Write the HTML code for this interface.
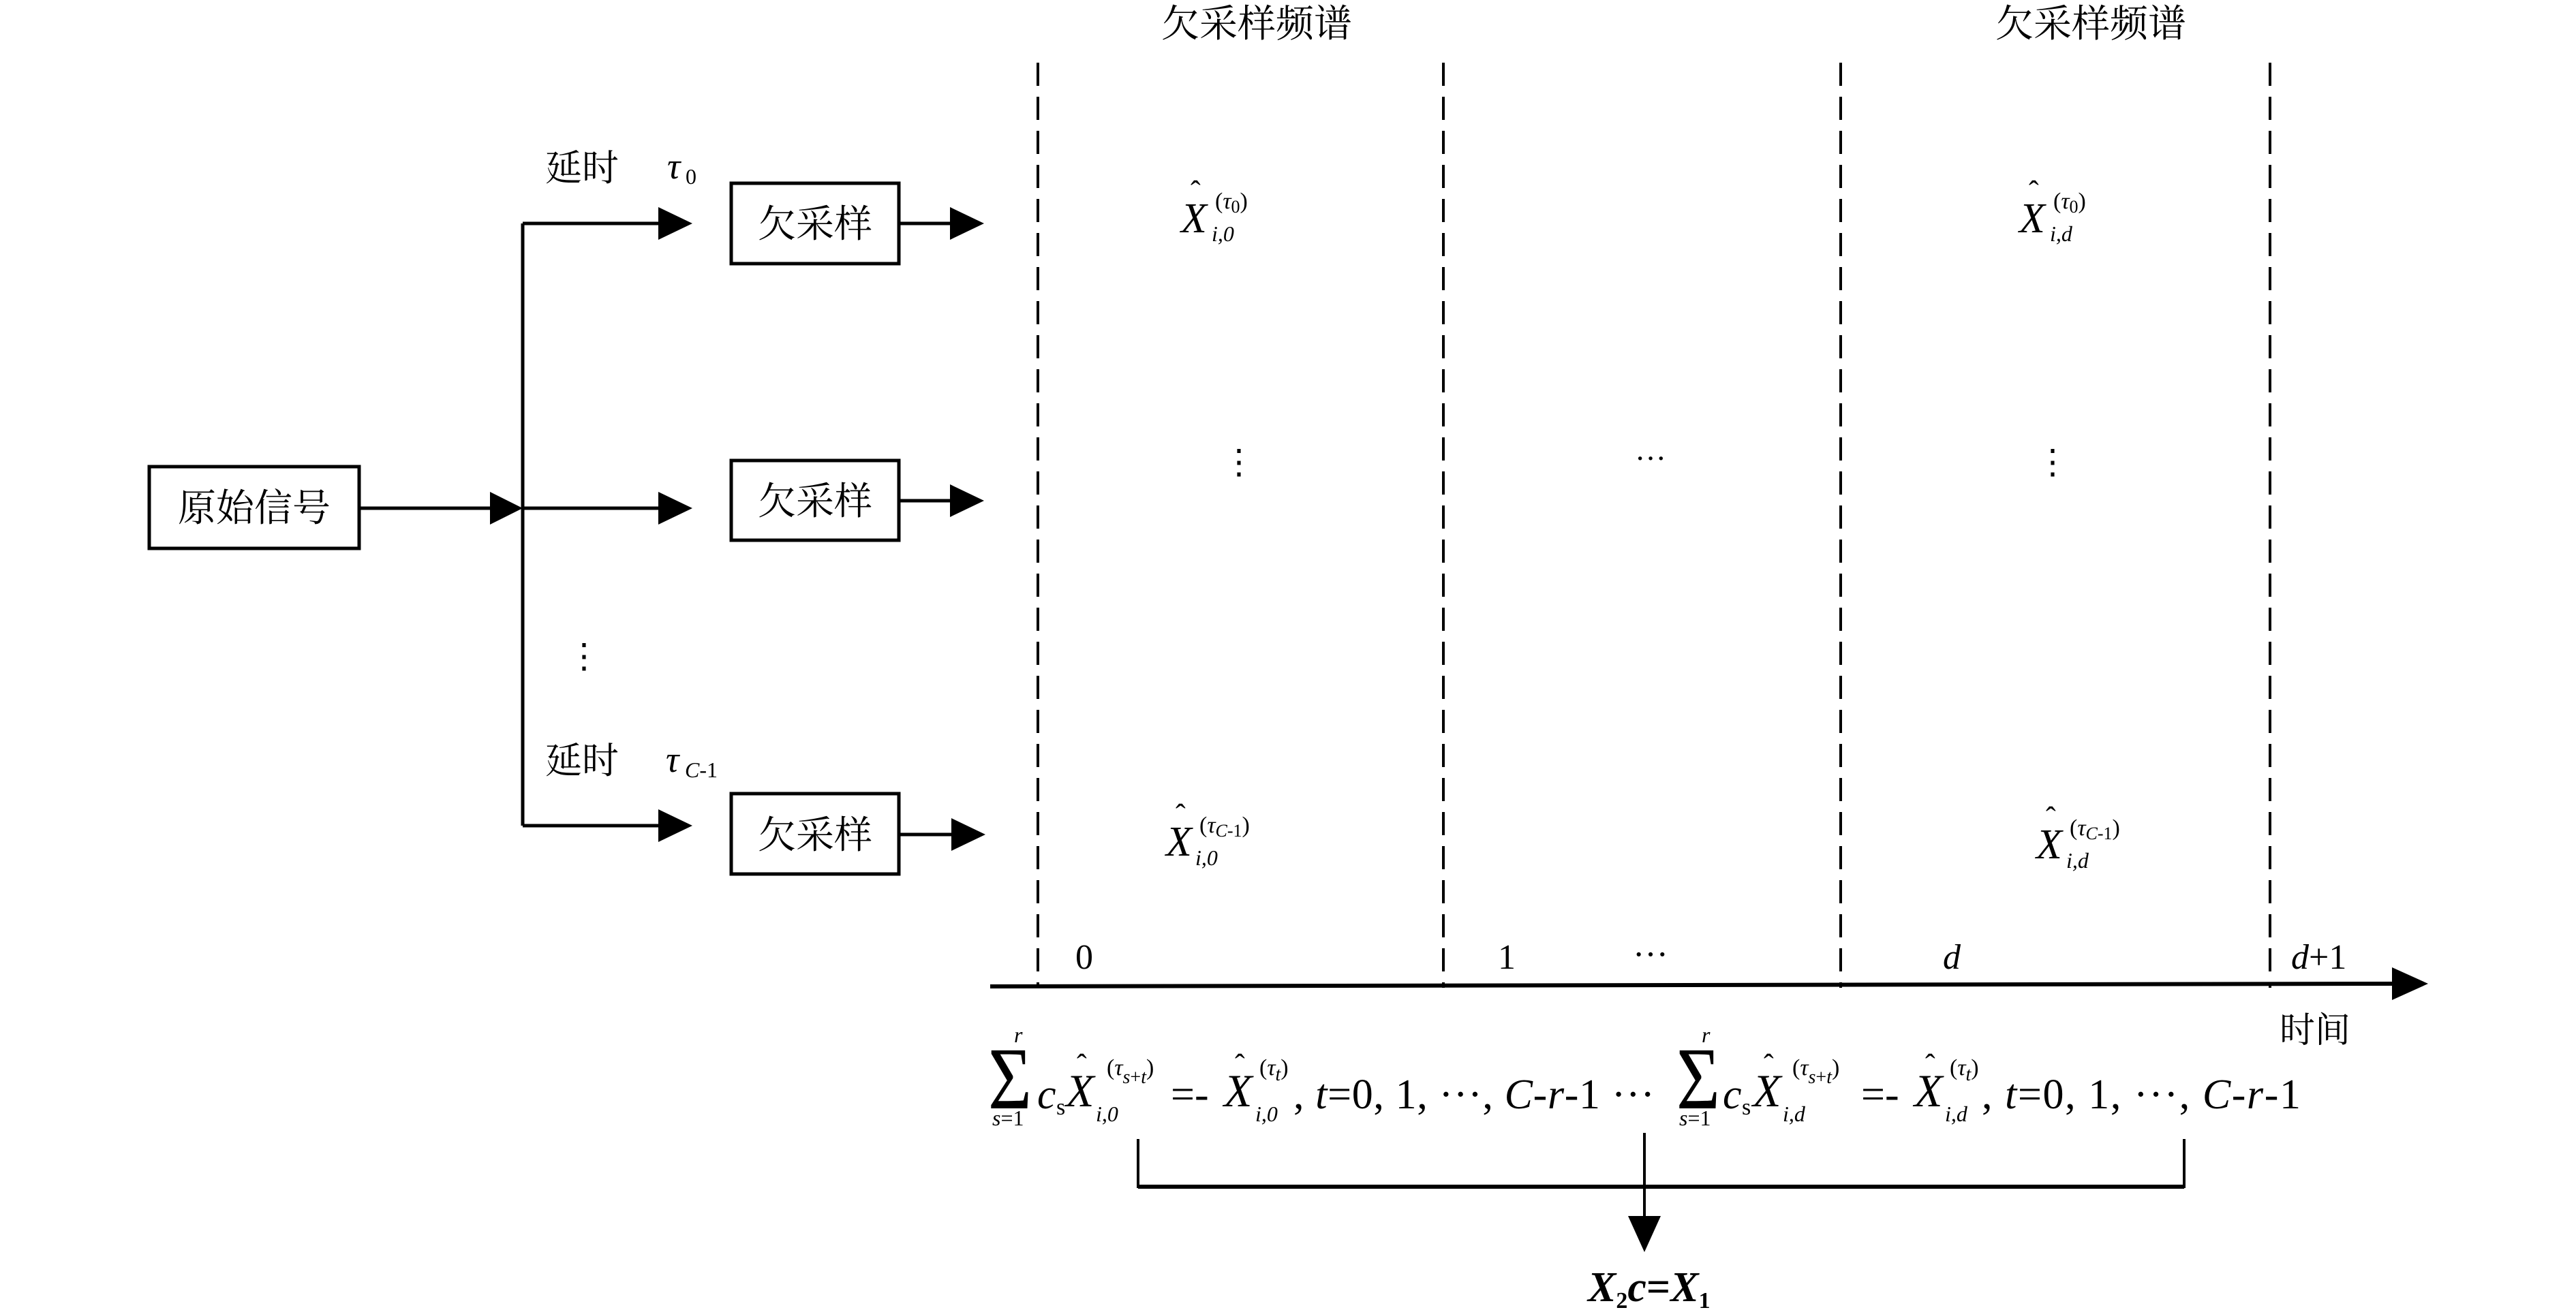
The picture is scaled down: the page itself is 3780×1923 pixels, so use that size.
<!DOCTYPE html>
<html><head><meta charset="utf-8"><style>
html,body{margin:0;padding:0;background:#fff}
svg{display:block}
text{font-family:"Liberation Serif","Noto Serif CJK SC",serif;fill:#000}
.cjk{font-family:"Liberation Serif","Noto Serif CJK SC","Noto Sans CJK SC",serif}
.i{font-style:italic}
</style></head><body>
<svg width="3780" height="1923" viewBox="0 0 3780 1923" xmlns="http://www.w3.org/2000/svg">
<g stroke="#000" fill="none">
<rect x="219" y="685" width="308" height="120" stroke-width="5"/>
<line x1="527" y1="746" x2="725" y2="746" stroke-width="5"/>
<line x1="767" y1="328" x2="767" y2="1212" stroke-width="5"/>
<line x1="767" y1="328" x2="970" y2="328" stroke-width="5"/>
<line x1="767" y1="746" x2="970" y2="746" stroke-width="5"/>
<line x1="767" y1="1212" x2="970" y2="1212" stroke-width="5"/>
<rect x="1073" y="269" width="246" height="118" stroke-width="5"/>
<rect x="1073" y="676" width="246" height="117" stroke-width="5"/>
<rect x="1073" y="1165" width="246" height="118" stroke-width="5"/>
<line x1="1319" y1="328" x2="1400" y2="328" stroke-width="5"/>
<line x1="1319" y1="735" x2="1400" y2="735" stroke-width="5"/>
<line x1="1319" y1="1225" x2="1400" y2="1225" stroke-width="5"/>
<g stroke-width="4" stroke-dasharray="34,16">
<line x1="1523" y1="92" x2="1523" y2="1450"/>
<line x1="2118" y1="92" x2="2118" y2="1450"/>
<line x1="2701" y1="92" x2="2701" y2="1450"/>
<line x1="3331" y1="92" x2="3331" y2="1450"/>
</g>
<line x1="1453" y1="1448" x2="3515" y2="1444" stroke-width="6"/>
<line x1="1670" y1="1672" x2="1670" y2="1744" stroke-width="4"/>
<line x1="3205" y1="1672" x2="3205" y2="1744" stroke-width="4"/>
<line x1="1670" y1="1742" x2="3205" y2="1742" stroke-width="6"/>
<line x1="2413" y1="1663" x2="2413" y2="1790" stroke-width="4"/>
</g>
<g fill="#000">
<polygon points="719,722 767,746 719,770"/>
<polygon points="966,304 1016,328 966,352"/>
<polygon points="966,722 1016,746 966,770"/>
<polygon points="966,1188 1016,1212 966,1236"/>
<polygon points="1394,304 1444,328 1394,352"/>
<polygon points="1394,711 1444,735 1394,759"/>
<polygon points="1396,1201 1446,1225 1396,1249"/>
<polygon points="3510,1420 3563,1444 3510,1468"/>
<polygon points="2389,1785 2437,1785 2413,1838"/>
</g>
<g class="cjk">
<text x="1844" y="54" font-size="56" text-anchor="middle">欠采样频谱</text>
<text x="3068" y="54" font-size="56" text-anchor="middle">欠采样频谱</text>
<text x="373" y="765" font-size="56" text-anchor="middle">原始信号</text>
<text x="1196" y="348" font-size="56" text-anchor="middle">欠采样</text>
<text x="1196" y="755" font-size="56" text-anchor="middle">欠采样</text>
<text x="1196" y="1245" font-size="56" text-anchor="middle">欠采样</text>
<text x="800" y="265" font-size="54">延时</text>
<text x="800" y="1135" font-size="54">延时</text>
<text x="3345" y="1530" font-size="52">时间</text>
</g>
<text x="979" y="262" font-size="54" class="i">τ</text><text x="1006" y="270" font-size="32">0</text>
<text x="977" y="1133" font-size="54" class="i">τ</text><text x="1005" y="1141" font-size="32"><tspan class="i">C</tspan>-1</text>
<text x="857" y="980" font-size="50" text-anchor="middle">⋮</text>
<text x="1818" y="695" font-size="50" text-anchor="middle">⋮</text>
<text x="3012" y="695" font-size="50" text-anchor="middle">⋮</text>
<text x="2422" y="688" font-size="46" text-anchor="middle">···</text>
<g font-size="62">
<text x="1733" y="341" class="i">X</text><text x="1747" y="296" font-size="44">ˆ</text>
<text x="1778" y="354" font-size="32" class="i">i,0</text>
<text x="1783" y="306" font-size="34">(<tspan class="i">τ</tspan><tspan font-size="26" dy="6">0</tspan><tspan dy="-6">)</tspan></text>

<text x="2963" y="341" class="i">X</text><text x="2977" y="296" font-size="44">ˆ</text>
<text x="3008" y="354" font-size="32" class="i">i,d</text>
<text x="3013" y="306" font-size="34">(<tspan class="i">τ</tspan><tspan font-size="26" dy="6">0</tspan><tspan dy="-6">)</tspan></text>

<text x="1711" y="1256" class="i">X</text><text x="1725" y="1211" font-size="44">ˆ</text>
<text x="1754" y="1270" font-size="32" class="i">i,0</text>
<text x="1760" y="1222" font-size="34">(<tspan class="i">τ</tspan><tspan font-size="26" dy="6" class="i">C</tspan><tspan font-size="26">-1</tspan><tspan dy="-6">)</tspan></text>

<text x="2988" y="1260" class="i">X</text><text x="3002" y="1215" font-size="44">ˆ</text>
<text x="3032" y="1274" font-size="32" class="i">i,d</text>
<text x="3037" y="1226" font-size="34">(<tspan class="i">τ</tspan><tspan font-size="26" dy="6" class="i">C</tspan><tspan font-size="26">-1</tspan><tspan dy="-6">)</tspan></text>
</g>
<g font-size="52">
<text x="1578" y="1422">0</text>
<text x="2198" y="1422">1</text>
<text x="2422" y="1418" text-anchor="middle">···</text>
<text x="2851" y="1422" class="i">d</text>
<text x="3362" y="1422"><tspan class="i">d</tspan>+1</text>
</g>
<g font-size="62">
<text x="1488" y="1530" font-size="32" class="i">r</text>
<text x="1450" y="1627" font-size="130" textLength="64" lengthAdjust="spacingAndGlyphs">Σ</text>
<text x="1456" y="1652" font-size="32"><tspan class="i">s</tspan>=1</text>
<text x="1522" y="1627" class="i">c</text><text x="1550" y="1636" font-size="34">s</text>
<text x="1564" y="1624" font-size="68" class="i">X</text><text x="1580" y="1578" font-size="44">ˆ</text>
<text x="1608" y="1646" font-size="32" class="i">i,0</text>
<text x="1624" y="1578" font-size="34">(<tspan class="i">τ</tspan><tspan font-size="28" dy="12" class="i">s</tspan><tspan font-size="28">+</tspan><tspan font-size="28" class="i">t</tspan><tspan dy="-12">)</tspan></text>
<text x="1718" y="1627">=-</text>
<text x="1796" y="1624" font-size="68" class="i">X</text><text x="1812" y="1578" font-size="44">ˆ</text>
<text x="1842" y="1646" font-size="32" class="i">i,0</text>
<text x="1848" y="1578" font-size="34">(<tspan class="i">τ</tspan><tspan font-size="28" dy="8" class="i">t</tspan><tspan dy="-8">)</tspan></text>
<text x="1898" y="1627" textLength="530" lengthAdjust="spacing">, <tspan class="i">t</tspan>=0, 1, ···, <tspan class="i">C</tspan>-<tspan class="i">r</tspan>-1 ···</text>
</g>
<g font-size="62">
<text x="2497" y="1530" font-size="32" class="i">r</text>
<text x="2460" y="1627" font-size="130" textLength="64" lengthAdjust="spacingAndGlyphs">Σ</text>
<text x="2464" y="1652" font-size="32"><tspan class="i">s</tspan>=1</text>
<text x="2528" y="1627" class="i">c</text><text x="2556" y="1636" font-size="34">s</text>
<text x="2572" y="1624" font-size="68" class="i">X</text><text x="2588" y="1578" font-size="44">ˆ</text>
<text x="2616" y="1646" font-size="32" class="i">i,d</text>
<text x="2630" y="1578" font-size="34">(<tspan class="i">τ</tspan><tspan font-size="28" dy="12" class="i">s</tspan><tspan font-size="28">+</tspan><tspan font-size="28" class="i">t</tspan><tspan dy="-12">)</tspan></text>
<text x="2731" y="1627">=-</text>
<text x="2809" y="1624" font-size="68" class="i">X</text><text x="2825" y="1578" font-size="44">ˆ</text>
<text x="2854" y="1646" font-size="32" class="i">i,d</text>
<text x="2861" y="1578" font-size="34">(<tspan class="i">τ</tspan><tspan font-size="28" dy="8" class="i">t</tspan><tspan dy="-8">)</tspan></text>
<text x="2908" y="1627" textLength="468" lengthAdjust="spacing">, <tspan class="i">t</tspan>=0, 1, ···, <tspan class="i">C</tspan>-<tspan class="i">r</tspan>-1</text>
</g>
<text x="2330" y="1910" font-size="62" font-weight="bold" class="i">X<tspan font-size="34" dy="10" font-style="normal">2</tspan><tspan dy="-10">c</tspan><tspan font-style="normal">=</tspan>X<tspan font-size="34" dy="10" font-style="normal">1</tspan></text>
</svg>
</body></html>
